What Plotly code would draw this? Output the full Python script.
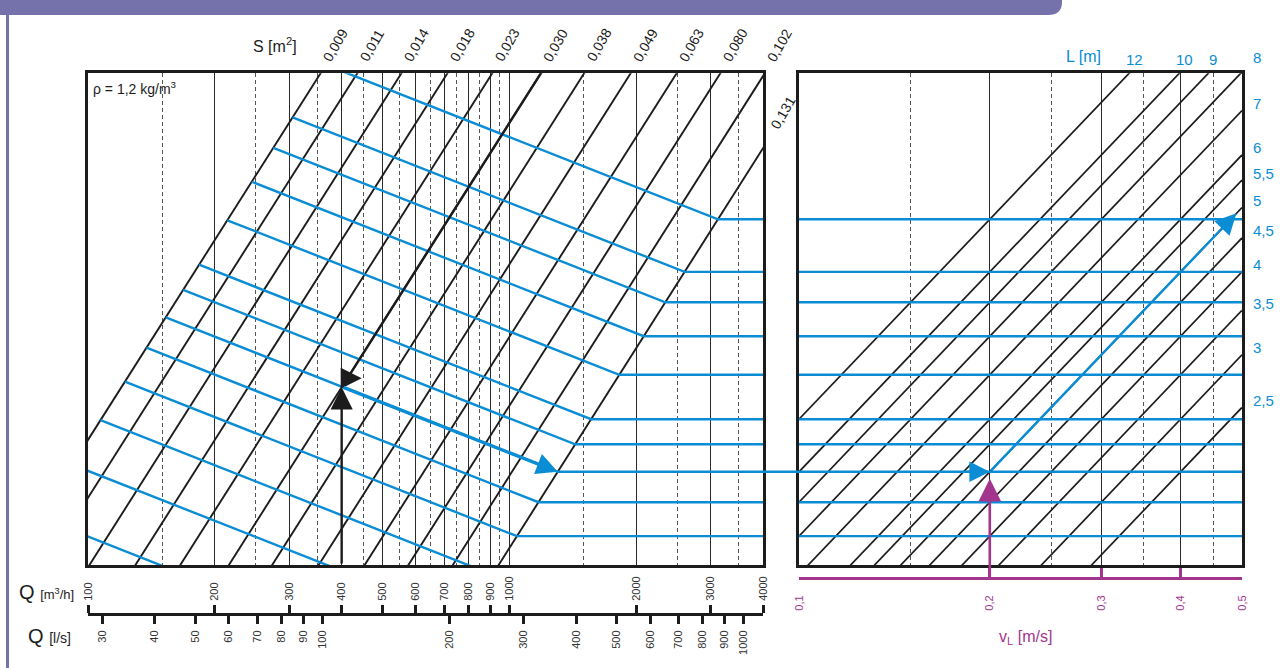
import numpy as np
import plotly.graph_objects as go

# ---------------------------------------------------------------- data
q_m3h_ticks = [100, 200, 300, 400, 500, 600, 700, 800, 900, 1000, 2000, 3000, 4000]
q_m3h_half = [150, 250, 350, 450, 550, 650, 750, 850, 950, 1500, 2500, 3500]
q_ls_ticks = [30, 40, 50, 60, 70, 80, 90, 100, 200, 300, 400, 500, 600, 700, 800, 900, 1000]

s_areas = [0.009, 0.011, 0.014, 0.018, 0.023, 0.030, 0.038, 0.049, 0.063, 0.080, 0.102, 0.131]

throw_lengths = [12, 10, 9, 8, 7, 6, 5.5, 5, 4.5, 4, 3.5, 3, 2.5]
throw_top_labels = [12, 10, 9]

vl_ticks = [0.1, 0.2, 0.3, 0.4, 0.5]
vl_half = [0.15, 0.25, 0.35, 0.45]

# levels L*vL [m2/s] carried from the area field into the throw field
transfer_levels = [2.4, 2.0, 1.8, 1.6, 1.4, 1.2, 1.1, 1.0, 0.9, 0.8, 0.7, 0.6, 0.5]

# outlet velocity span of the area field [m/s]
v0_range = [2.0, 11.0]

# worked example
ex_q = 400        # m3/h
ex_s = 0.030      # m2
ex_vl = 0.2       # m/s
ex_level = 1.0    # L*vL

# ---------------------------------------------------------------- model
S_REF = s_areas[-1]
S_MIN = s_areas[0]
C_REF = np.sqrt(S_REF)
LS_PER_M3H = 1 / 3.6


def v0_on_level(level, s):
    return level / (C_REF * (s / S_REF) ** 0.2)


def q_of(v0, s):
    return 3600.0 * s * v0


level_range = [v * C_REF for v in v0_range]
lg = np.log10

# ---------------------------------------------------------------- page geometry
W, H = 1288, 668
LX = (88, 763)
RX = (799, 1242)
PY = (73.3, 565)
Q_AXIS_Y = 614
VL_AXIS_Y = 578


def px(x):
    return x / W


def py(y):
    return 1 - y / H


BLACK = "#1c1c1c"
BLUE = "#0a8dd4"
PURPLE = "#a3358e"
BAND = "#7571aa"
FONT = "Liberation Sans, Arial, sans-serif"

fig = go.Figure()

# area lines S = const (Q = 3600*S*v0)
v_ext = [v0_range[0] / 2, v0_range[1] * 2]
xs, ys = [], []
for s in s_areas:
    xs += [q_of(v_ext[0], s), q_of(v_ext[1], s), None]
    ys += [v_ext[0], v_ext[1], None]
fig.add_trace(go.Scatter(x=xs, y=ys, mode="lines", line=dict(color=BLACK, width=1.9),
                         xaxis="x", yaxis="y", hoverinfo="skip", showlegend=False))

# throw lines L = const in the right field
xs, ys = [], []
for L in throw_lengths:
    xs += [vl_ticks[0], vl_ticks[-1], None]
    ys += [L * vl_ticks[0], L * vl_ticks[-1], None]
fig.add_trace(go.Scatter(x=xs, y=ys, mode="lines", line=dict(color=BLACK, width=1.7),
                         xaxis="x2", yaxis="y2", hoverinfo="skip", showlegend=False))

# transfer lines in the area field
xs, ys = [], []
for lev in transfer_levels:
    va = v0_on_level(lev, S_MIN)
    vb = v0_on_level(lev, S_REF)
    xs += [q_of(va, S_MIN), q_of(vb, S_REF), q_m3h_ticks[-1], None]
    ys += [va, vb, vb, None]
fig.add_trace(go.Scatter(x=xs, y=ys, mode="lines", line=dict(color=BLUE, width=2.4),
                         xaxis="x", yaxis="y", hoverinfo="skip", showlegend=False))

# transfer levels continued in the throw field
xs, ys = [], []
for lev in transfer_levels:
    xs += [vl_ticks[0], vl_ticks[-1], None]
    ys += [lev, lev, None]
fig.add_trace(go.Scatter(x=xs, y=ys, mode="lines", line=dict(color=BLUE, width=2.4),
                         xaxis="x2", yaxis="y2", hoverinfo="skip", showlegend=False))

# example: highlighted area line from the intersection up
v_int = ex_q / (3600 * ex_s)
fig.add_trace(go.Scatter(x=[ex_q, q_of(v_ext[1], ex_s)], y=[v_int, v_ext[1]], mode="lines",
                         line=dict(color=BLACK, width=2.4), xaxis="x", yaxis="y",
                         hoverinfo="skip", showlegend=False))

# carriers for the scale-only axes
for xa, xv, ya, yv in [("x3", q_m3h_ticks[1], "y", v0_range[0]),
                       ("x4", q_ls_ticks[1], "y", v0_range[0]),
                       ("x5", vl_ticks[1], "y2", level_range[0])]:
    fig.add_trace(go.Scatter(x=[xv], y=[yv], xaxis=xa, yaxis=ya, mode="markers",
                             marker=dict(opacity=0), hoverinfo="skip", showlegend=False))

v_start = v0_on_level(ex_level, ex_s)
v_end = v0_on_level(ex_level, S_REF)
ex_L = ex_level / ex_vl
vl_end = vl_ticks[-1] * 0.98

# pixel height of the example level in the throw field
frac = (lg(level_range[1]) - lg(ex_level)) / (lg(level_range[1]) - lg(level_range[0]))
ex_level_px = PY[0] + frac * (PY[1] - PY[0])

ann = []


def arrow(**kw):
    base = dict(text="", showarrow=True, arrowhead=2, standoff=0)
    base.update(kw)
    ann.append(base)


# Q up to the area line
arrow(x=lg(ex_q), y=lg(v_int), xref="x", yref="y", axref="x", ayref="y",
      ax=lg(ex_q), ay=lg(v0_range[0]), arrowwidth=2.4, arrowsize=1.85, arrowcolor=BLACK)
# head of the highlighted area line
arrow(x=lg(ex_q), y=lg(v_int), xref="x", yref="y", ax=-22, ay=0, xshift=20, yshift=9,
      arrowwidth=2.4, arrowsize=1.75, arrowcolor=BLACK)
# along the transfer line to the reference area
arrow(x=lg(q_of(v_end, S_REF)), y=lg(v_end), xref="x", yref="y", axref="x", ayref="y",
      ax=lg(q_of(v_start, ex_s)), ay=lg(v_start), arrowwidth=3.4, arrowsize=1.25, arrowcolor=BLUE)
# across to the terminal velocity
arrow(x=lg(ex_vl), y=lg(ex_level), xref="x2", yref="y2", ax=-24, ay=0,
      arrowwidth=2.4, arrowsize=1.7, arrowcolor=BLUE)
# terminal velocity up from its scale
arrow(x=lg(ex_vl), y=lg(ex_level), xref="x2", yref="y2", ax=0, ay=VL_AXIS_Y - ex_level_px,
      standoff=7, arrowwidth=2.6, arrowsize=1.75, arrowcolor=PURPLE)
# along the throw line to the result
arrow(x=lg(vl_end), y=lg(ex_L * vl_end), xref="x2", yref="y2", axref="x2", ayref="y2",
      ax=lg(ex_vl), ay=lg(ex_level), arrowwidth=2.4, arrowsize=1.75, arrowcolor=BLUE)

# area labels at the exit of each line
q_max = q_m3h_ticks[-1]
for s in s_areas:
    txt = f"{s:.3f}".replace(".", ",")
    q_top = q_of(v0_range[1], s)
    if q_top <= q_max * 1.1:
        q_anchor = min(q_top, q_max)
        extra = 421.3 * lg(q_top / q_anchor)
        ann.append(dict(x=lg(q_anchor), y=lg(v0_range[1]), xref="x", yref="y", text=txt,
                        showarrow=False, textangle=-60, xshift=15 + extra, yshift=28,
                        font=dict(size=14, color=BLACK)))
    else:
        v_edge = q_max / (3600 * s)
        ann.append(dict(x=lg(q_max), y=lg(v_edge), xref="x", yref="y", text=txt,
                        showarrow=False, textangle=-60, xshift=20, yshift=35,
                        font=dict(size=14, color=BLACK)))

# throw labels
for L in throw_lengths:
    txt = f"{L:g}".replace(".", ",")
    if L in throw_top_labels:
        ann.append(dict(x=lg(level_range[1] / L), y=lg(level_range[1]), xref="x2", yref="y2",
                        text=txt, showarrow=False, xshift=5, yshift=14,
                        font=dict(size=15, color=BLUE)))
    else:
        y_edge = L * vl_ticks[-1]
        corner = y_edge >= level_range[1]
        ann.append(dict(x=lg(vl_ticks[-1]), y=lg(min(y_edge, level_range[1])), xref="x2", yref="y2",
                        text=txt, showarrow=False, xanchor="left", xshift=9,
                        yshift=16 if corner else 7, font=dict(size=15, color=BLUE)))


def note(x, y, text, size, color=BLACK, xanchor="center"):
    return dict(x=px(x), y=py(y), xref="paper", yref="paper", showarrow=False,
                xanchor=xanchor, yanchor="middle", text=text,
                font=dict(size=size, color=color))


# titles and notes
ann += [
    note(275, 45, "S [m<sup>2</sup>]", 16),
    note(91, 88, "ρ = 1,2 kg/m<sup>3</sup>", 14, xanchor="left"),
    note(1083, 56, "L [m]", 16, BLUE),
    note(76, 592, "Q <span style='font-size:13px'>[m<sup>3</sup>/h]</span>", 20, xanchor="right"),
    note(73, 636, "Q <span style='font-size:14px'>[l/s]</span>", 20, xanchor="right"),
    note(1025, 637, "v<sub>L</sub> [m/s]", 16, PURPLE),
]

shapes = [
    # header band with rounded corner
    dict(type="path", xref="paper", yref="paper", fillcolor=BAND, line=dict(width=0),
         path=(f"M 0,1 L {px(1062)},1 L {px(1062)},{py(2)} "
               f"Q {px(1062)},{py(15)} {px(1048)},{py(15)} L 0,{py(15)} Z")),
    # page rule on the left
    dict(type="line", xref="paper", yref="paper", x0=px(7.5), x1=px(7.5), y0=0, y1=py(15),
         line=dict(color=BAND, width=3)),
    # example level crossing the gap between the fields
    dict(type="line", xref="paper", yref="y2", x0=px(LX[1]), x1=px(RX[0]),
         y0=ex_level, y1=ex_level, line=dict(color=BLUE, width=2.4)),
]

frame = dict(showline=True, mirror=True, linecolor=BLACK, linewidth=2.5, zeroline=False,
             automargin=False)
hidden_y = dict(showticklabels=False, ticks="", showgrid=False, **frame)

fig.update_layout(
    width=W, height=H, autosize=False,
    margin=dict(l=0, r=0, t=0, b=0, autoexpand=False),
    paper_bgcolor="white", plot_bgcolor="white",
    font=dict(family=FONT, color=BLACK),
    showlegend=False,
    xaxis=dict(domain=[px(LX[0]), px(LX[1])], type="log",
               range=[lg(q_m3h_ticks[0]), lg(q_m3h_ticks[-1])], anchor="y",
               tickmode="array", tickvals=q_m3h_ticks, showticklabels=False, ticks="",
               showgrid=True, gridcolor="#2a2a2a", gridwidth=1.3,
               minor=dict(tickmode="array", tickvals=q_m3h_half, showgrid=True, ticks="",
                          griddash="4px,3px", gridcolor="#555", gridwidth=1),
               **frame),
    yaxis=dict(domain=[py(PY[1]), py(PY[0])], type="log", range=[lg(v) for v in v0_range],
               anchor="x", **hidden_y),
    xaxis2=dict(domain=[px(RX[0]), px(RX[1])], type="log",
                range=[lg(vl_ticks[0]), lg(vl_ticks[-1])], anchor="y2",
                tickmode="array", tickvals=vl_ticks[1:-1], showticklabels=False, ticks="",
                showgrid=True, gridcolor="#2a2a2a", gridwidth=1.3,
                minor=dict(tickmode="array", tickvals=vl_half, showgrid=True, ticks="",
                           griddash="4px,3px", gridcolor="#555", gridwidth=1),
                **frame),
    yaxis2=dict(domain=[py(PY[1]), py(PY[0])], type="log", range=[lg(v) for v in level_range],
                anchor="x2", **hidden_y),
    xaxis3=dict(overlaying="x", anchor="free", position=py(Q_AXIS_Y), side="top", type="log",
                range=[lg(q_m3h_ticks[0]), lg(q_m3h_ticks[-1])], automargin=False,
                tickmode="array", tickvals=q_m3h_ticks, ticktext=[str(v) for v in q_m3h_ticks],
                tickangle=-90, ticks="outside", ticklen=8, tickwidth=3, tickcolor=BLACK,
                showline=True, linewidth=3, linecolor=BLACK, showgrid=False, zeroline=False,
                ticklabelstandoff=2, tickfont=dict(size=11, color="#333")),
    xaxis4=dict(overlaying="x", anchor="free", position=py(Q_AXIS_Y), side="bottom", type="log",
                range=[lg(q_m3h_ticks[0] * LS_PER_M3H), lg(q_m3h_ticks[-1] * LS_PER_M3H)],
                automargin=False,
                tickmode="array", tickvals=q_ls_ticks, ticktext=[str(v) for v in q_ls_ticks],
                tickangle=-90, ticks="outside", ticklen=9, tickwidth=3, tickcolor=BLACK,
                showline=False, showgrid=False, zeroline=False,
                ticklabelstandoff=2, tickfont=dict(size=11, color="#333")),
    xaxis5=dict(overlaying="x2", anchor="free", position=py(VL_AXIS_Y), side="bottom", type="log",
                range=[lg(vl_ticks[0]), lg(vl_ticks[-1])], automargin=False,
                tickmode="array", tickvals=vl_ticks,
                ticktext=[f"{v:g}".replace(".", ",") for v in vl_ticks],
                tickangle=-90, ticks="inside", ticklen=9, tickwidth=3, tickcolor=PURPLE,
                showline=True, linewidth=3, linecolor=PURPLE, showgrid=False, zeroline=False,
                ticklabelstandoff=11, tickfont=dict(size=11, color=PURPLE)),
    annotations=ann,
    shapes=shapes,
)

fig.write_html("out.html")
